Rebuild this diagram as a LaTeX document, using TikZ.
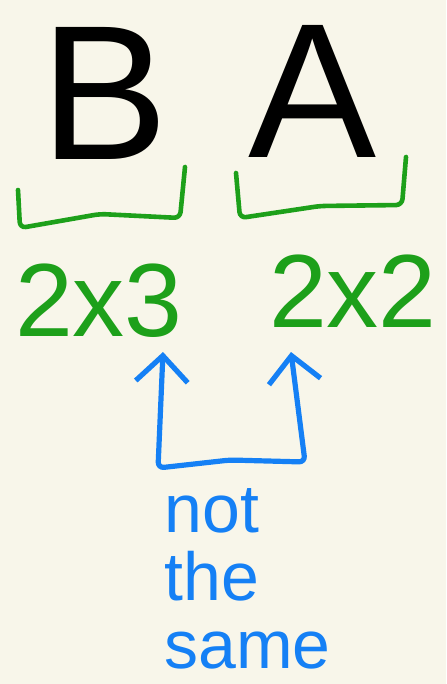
\documentclass[tikz,border=0pt]{standalone}
\usepackage{fontspec}
\setmainfont{Liberation Sans}
\usepackage{xcolor}
\usetikzlibrary{arrows.meta,positioning,calc}
\definecolor{paperBg}{HTML}{F8F6EA}
\definecolor{penGreen}{HTML}{1DA01A}
\definecolor{penBlue}{HTML}{1580F5}

\begin{document}
\begin{tikzpicture}[x=0.5pt,y=-0.5pt,
  mat/.style={anchor=base,inner sep=0pt,font=\fontsize{96}{96}\selectfont},
  dims/.style={anchor=base,inner sep=0pt,text=penGreen,font=\fontsize{52}{52}\selectfont},
  brace/.style={draw=penGreen,line width=2.3pt,rounded corners=3pt,line cap=round,line join=round},
  pointer/.style={draw=penBlue,line width=2.6pt,rounded corners=3pt,line cap=round,line join=round,
    {Straight Barb[length=13pt,width=26pt,line width=2.6pt]}-{Straight Barb[length=13pt,width=26pt,line width=2.6pt]}}]
\fill[paperBg] (0,0) rectangle (446,684);
\useasboundingbox (0,0) rectangle (446,684);
% matrices B A
\node[mat] (B) at (105,160) {B};
\node[mat] (A) at (313,158) {A};
% brackets under each matrix
\draw[brace] (18,190) -- (20,228) -- (100,214) -- (180,218) -- (185,167);
\draw[brace] (236,173) -- (240,218) -- (320,206) -- (402,205) -- (406,157);
% sizes
\node[dims] (dimsB) at (99,336) {2x3};
\node[dims] (dimsA) at (353,327) {2x2};
% inner sizes compared
\coordinate (tipL) at (163,352);
\coordinate (tipR) at (291,352);
\draw[pointer] (tipL) -- (158,468) -- (230,460) -- (305,462) -- (tipR);
\node[anchor=north west,inner sep=0pt,align=left,text=penBlue,
  font=\fontsize{34}{34}\selectfont] (note) at (164,488) {not\\the\\same};
\end{tikzpicture}
\end{document}
